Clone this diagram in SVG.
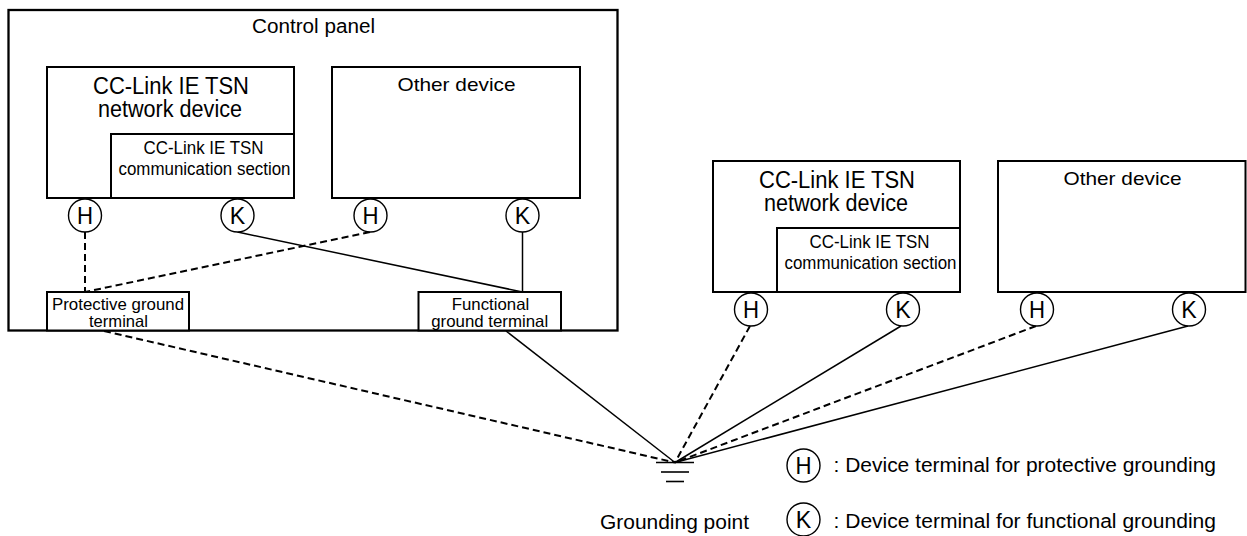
<svg xmlns="http://www.w3.org/2000/svg" width="1247" height="536" viewBox="0 0 1247 536">
<style>
text{font-family:"Liberation Sans",Arial,sans-serif;fill:#000;text-anchor:middle}
.box{fill:#fff;stroke:#000;stroke-width:2}
.panel{fill:none;stroke:#000;stroke-width:2.3}
.term{fill:#fff;stroke:#000;stroke-width:1.4}
.big{font-size:23px}
.mid{font-size:19px}
.sm{font-size:17.5px}
.tt{font-size:16.5px}
.let{font-size:24px}
.leg{font-size:20px;text-anchor:start}
.dash{fill:none;stroke:#000;stroke-width:2;stroke-dasharray:7 4}
.solid{fill:none;stroke:#000;stroke-width:1.5}
.gnd{stroke:#000;stroke-width:1.6}
</style>
<defs>
<g id="hterm"><circle class="term" cx="0" cy="0" r="16.5"/><text class="let" x="0" y="8.5" textLength="16" lengthAdjust="spacingAndGlyphs">H</text></g>
<g id="kterm"><circle class="term" cx="0" cy="0" r="16.5"/><text class="let" x="0" y="8.5" textLength="15.5" lengthAdjust="spacingAndGlyphs">K</text></g>
</defs>

<g id="control-panel">
<rect class="panel" x="8.5" y="10" width="609" height="320.5"/>
<text x="313.5" y="33" style="font-size:20px" textLength="123" lengthAdjust="spacingAndGlyphs">Control panel</text>
</g>

<g id="connectors">
<line class="dash" x1="85" y1="232" x2="85" y2="292"/>
<line class="dash" x1="370" y1="232" x2="85" y2="292"/>
<line class="solid" x1="237.5" y1="232" x2="522.5" y2="292"/>
<line class="solid" x1="522.5" y1="232" x2="522.5" y2="292"/>
<line class="dash" x1="104" y1="331" x2="675" y2="462.5"/>
<line class="solid" x1="506" y1="331" x2="675" y2="462.5"/>
<line class="dash" x1="750" y1="326" x2="675" y2="462.5"/>
<line class="solid" x1="901" y1="326" x2="675" y2="462.5"/>
<line class="dash" x1="1036" y1="326" x2="675" y2="462.5"/>
<line class="solid" x1="1188" y1="326" x2="675" y2="462.5"/>
</g>

<g id="cclink-device-1">
<rect class="box" x="47" y="67" width="247" height="131"/>
<text class="big" x="171" y="93.5" textLength="156" lengthAdjust="spacingAndGlyphs">CC-Link IE TSN</text>
<text class="big" x="170" y="117" textLength="144" lengthAdjust="spacingAndGlyphs">network device</text>
</g>
<g id="comm-section-1">
<rect class="box" x="111" y="134" width="183" height="64"/>
<text class="sm" x="203.5" y="154" textLength="120" lengthAdjust="spacingAndGlyphs">CC-Link IE TSN</text>
<text class="sm" x="204.5" y="174.5" textLength="172" lengthAdjust="spacingAndGlyphs">communication section</text>
</g>
<g id="other-device-1">
<rect class="box" x="332" y="67" width="248" height="131"/>
<text class="mid" x="456.5" y="90.5" textLength="118" lengthAdjust="spacingAndGlyphs">Other device</text>
</g>
<g id="h-terminal-1"><use href="#hterm" x="85" y="215.5"/></g>
<g id="k-terminal-1"><use href="#kterm" x="237.5" y="215.5"/></g>
<g id="h-terminal-2"><use href="#hterm" x="370.5" y="215.5"/></g>
<g id="k-terminal-2"><use href="#kterm" x="522.5" y="215.5"/></g>

<g id="protective-ground-terminal">
<rect class="box" x="47" y="292" width="142" height="38.5"/>
<text class="tt" x="118" y="309.5" textLength="132" lengthAdjust="spacingAndGlyphs">Protective ground</text>
<text class="tt" x="118.5" y="326.5" textLength="59" lengthAdjust="spacingAndGlyphs">terminal</text>
</g>
<g id="functional-ground-terminal">
<rect class="box" x="418.5" y="292" width="142.5" height="38.5"/>
<text class="tt" x="490.5" y="309.5" textLength="77.5" lengthAdjust="spacingAndGlyphs">Functional</text>
<text class="tt" x="489.7" y="326.5" textLength="117" lengthAdjust="spacingAndGlyphs">ground terminal</text>
</g>

<g id="cclink-device-2">
<rect class="box" x="713" y="161" width="247" height="131"/>
<text class="big" x="837" y="187.5" textLength="156" lengthAdjust="spacingAndGlyphs">CC-Link IE TSN</text>
<text class="big" x="836" y="211" textLength="144" lengthAdjust="spacingAndGlyphs">network device</text>
</g>
<g id="comm-section-2">
<rect class="box" x="777" y="228" width="183" height="64"/>
<text class="sm" x="869.5" y="248" textLength="120" lengthAdjust="spacingAndGlyphs">CC-Link IE TSN</text>
<text class="sm" x="870.5" y="268.5" textLength="172" lengthAdjust="spacingAndGlyphs">communication section</text>
</g>
<g id="other-device-2">
<rect class="box" x="998" y="161" width="247.5" height="131"/>
<text class="mid" x="1122.5" y="184.5" textLength="118" lengthAdjust="spacingAndGlyphs">Other device</text>
</g>
<g id="h-terminal-3"><use href="#hterm" x="751" y="309.5"/></g>
<g id="k-terminal-3"><use href="#kterm" x="903" y="309.5"/></g>
<g id="h-terminal-4"><use href="#hterm" x="1037" y="309.5"/></g>
<g id="k-terminal-4"><use href="#kterm" x="1189" y="309.5"/></g>

<g id="grounding-point">
<line class="gnd" x1="656" y1="462.5" x2="694" y2="462.5"/>
<line class="gnd" x1="661" y1="472" x2="689" y2="472"/>
<line class="gnd" x1="666" y1="481.5" x2="684" y2="481.5"/>
<text class="leg" x="600" y="528.5" textLength="149" lengthAdjust="spacingAndGlyphs">Grounding point</text>
</g>

<g id="legend">
<use href="#hterm" x="803.5" y="465.5"/>
<text class="leg" x="833.5" y="472" textLength="382.5" lengthAdjust="spacingAndGlyphs">: Device terminal for protective grounding</text>
<use href="#kterm" x="803.5" y="519.5"/>
<text class="leg" x="833.5" y="528" textLength="382.5" lengthAdjust="spacingAndGlyphs">: Device terminal for functional grounding</text>
</g>
</svg>
